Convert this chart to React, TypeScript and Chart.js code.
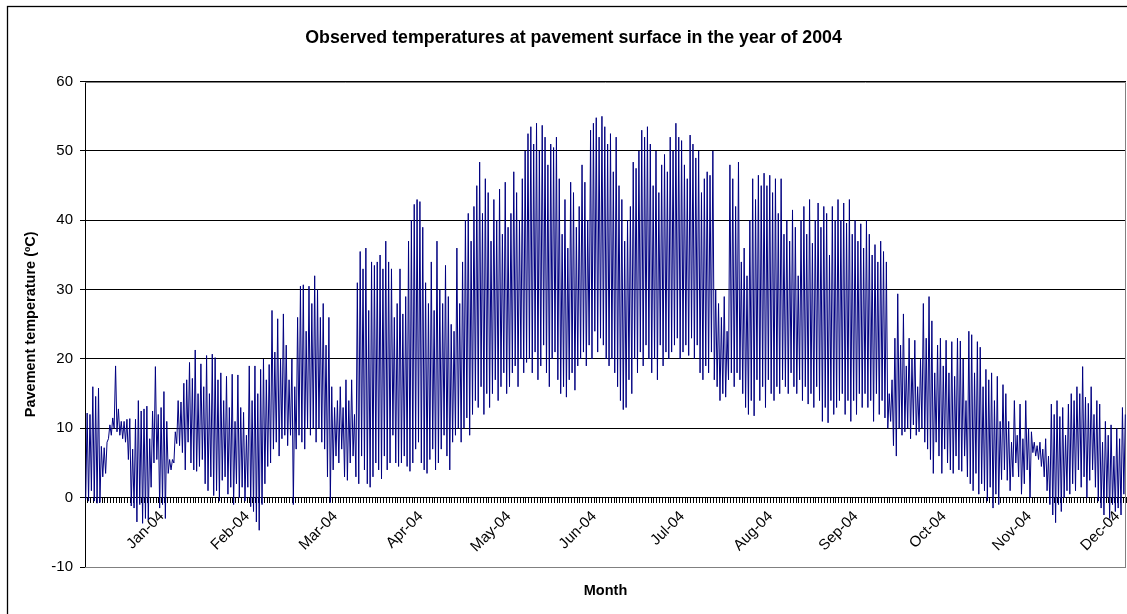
import { useEffect, useRef } from 'react';
import { Chart, registerables } from 'chart.js';

Chart.register(...registerables);

const chartTitle = 'Observed temperatures at pavement surface in the year of 2004';
const xTitle = 'Month';
const yTitle = 'Pavement temperature (ºC)';

const monthLabels = ['Jan-04', 'Feb-04', 'Mar-04', 'Apr-04', 'May-04', 'Jun-04', 'Jul-04', 'Aug-04', 'Sep-04', 'Oct-04', 'Nov-04', 'Dec-04'];
// day index (0 = first day of record) at which each month label sits
const monthLabelDays = [27, 57, 88, 118, 149, 179, 210, 241, 271, 302, 332, 363];

const dailyHighs = [
  12.2, 12, 16, 14.6, 15.8, 7.4, 7.2, 8, 10.5, 11.5,
  19, 12.8, 11, 11, 11.3, 11.4, 7, 11.3, 14, 12.5,
  12.8, 13.2, 8.5, 12.5, 18.9, 12, 13, 15.3, 11, 5.5,
  5.5, 9.5, 14, 13.8, 16.5, 17, 19.5, 17.2, 21.3, 15,
  19.3, 16, 20.5, 15, 20.7, 20.2, 17, 18, 14, 17.5,
  13, 17.8, 11, 17.7, 13, 12.3, 9, 19, 14, 19,
  15, 18.5, 20, 17, 19.2, 27, 21, 25.8, 20, 26.5,
  22, 17, 20, 16, 26, 30.5, 30.7, 24, 30.5, 28,
  32, 30, 26, 28, 22, 26, 16, 13, 14, 16,
  13, 17, 14, 17, 12, 31, 35.5, 33, 36, 27,
  34, 33.5, 34, 35, 33, 37, 34, 33, 26, 28,
  33, 26.5, 29, 37, 40, 42.3, 43, 42.7, 39, 31,
  28, 34, 27, 37, 30, 28, 33.5, 29, 25, 24,
  36, 28, 34, 40, 41, 37, 42, 45, 48.4, 41,
  46, 44, 37, 43, 40, 44.5, 38, 45.5, 39, 41,
  47, 44, 40, 46, 50, 52.5, 53.5, 51, 54, 50,
  53.7, 52, 48, 51, 50.5, 52, 46, 38, 43, 36,
  45.5, 44, 39, 42, 48, 45.5, 40, 53, 54, 54.8,
  52, 55, 53.5, 51, 52.5, 47, 52, 45, 43, 37,
  40, 42, 48.4, 47.5, 50, 53, 52, 53.5, 51, 45,
  50, 44, 48, 49.5, 47, 52, 50, 54, 52, 51.5,
  48, 46, 52.3, 51, 49, 50, 44, 46, 47, 46.5,
  50, 30, 28, 26, 29, 24, 48, 46, 42, 48.4,
  34, 36, 32, 40, 46, 43, 46.5, 45, 46.8, 45,
  46.5, 44, 46, 41, 46, 38, 40, 37, 41.5, 39,
  32, 40, 42, 38, 43, 36.7, 40, 42.5, 39, 42,
  41, 35, 42, 40, 43, 40, 42.5, 39.6, 43, 38,
  40, 37, 39.5, 36, 40, 38, 35, 36.5, 34, 37,
  35.5, 34, 15, 17, 23, 29.4, 22, 26.5, 19, 23,
  20, 22.7, 16, 20, 28, 23, 29, 25.5, 18, 22,
  23, 19, 22.7, 18, 22.5, 17.5, 23, 22.6, 20, 14,
  24, 23.5, 18, 22.5, 21.7, 16, 18.5, 17, 18, 14,
  17.5, 11, 16.3, 15, 11, 8, 14, 9, 13.5, 8.5,
  14, 10, 9.5, 8, 7.5, 8, 7, 8.5, 6, 13.5,
  12, 14, 11.7, 13, 9, 13.5, 15, 14, 16, 15,
  18.9, 14.5, 13.6, 16, 12, 14, 13.5, 8, 11, 9,
  10.5, 6, 10, 8.5, 13, 12,
];

const dailyLows = [
  -0.3, -0.5, 1, -0.5, -0.8, -0.7, 3, 3.5, 8.5, 9,
  10, 9.5, 9, 8.5, 8, 5.5, -1.2, -1.5, -3.5, -1,
  -3.7, -3, -3.2, 1.5, 5, 5.5, -1.5, -1, -3, 3.5,
  4, 5, 7.8, 7.5, 6.5, 4, 8, 5, 4, 3.8,
  4.5, 5.5, 2, 1, 3, 0.3, 1, -0.5, 2.5, 3,
  0.5, 1.5, -1, 2, 0, 1.5, -0.5, 1.5, -1.3, -2,
  -3.5, -4.7, -1, 2, 4.5, 5, 7, 8, 6, 8.5,
  9, 7.5, 9, -1, 7, 9, 8, 7, 10, 9,
  10, 8, 10, 8, 7, 3, -0.7, 4, 6, 5,
  7, 3, 2.5, 5, 6, 3, 2, 6, 4, 2,
  1.5, 3, 5, 4, 2.7, 6, 4, 5, 9, 5,
  4.5, 5, 6, 4.5, 3.8, 5, 7, 8, 5, 4,
  3.5, 5.5, 7, 4, 5, 7, 9, 6, 4, 8,
  9, 10, 8, 10, 11.5, 9, 12, 14, 13, 16,
  12, 15, 13, 15, 17, 14, 16, 18, 15, 16,
  18, 19, 16, 20, 18, 19.5, 20, 18, 21, 17,
  19, 22, 18, 16, 20, 21, 17, 15, 16, 14.5,
  17, 18, 15.5, 19, 20, 21, 19, 22, 20, 24,
  21, 23, 22, 20, 19, 20, 18, 16, 14, 12.7,
  13, 17, 15, 20, 18, 21, 19, 22, 20, 18,
  20, 17, 22, 19, 21, 20, 21, 22, 23, 20,
  21, 22, 20.5, 23, 20, 22, 18, 17, 19, 18,
  21, 17, 16, 14, 15, 14.5, 17, 18, 16, 18,
  17, 15, 13, 12, 14, 11.8, 17, 14, 16, 13,
  17, 15, 14, 16, 15, 17, 16, 15, 18, 16,
  15, 17, 14, 16, 13.5, 15, 13, 16, 14, 11,
  13, 10.8, 14, 12, 13, 14, 15, 12, 14, 11,
  14, 12, 15, 13, 15, 13, 14, 11, 15, 12,
  14, 11.5, 10, 11, 7.5, 6, 10, 9, 9.5, 10,
  8.5, 10.5, 9, 9.5, 10, 8, 7, 5.5, 3.5, 8,
  6, 3.5, 7, 5, 4, 3.5, 6, 4, 3.8, 6,
  3, 2, 1, 3.5, 0.5, 2, 1, -0.5, 1.5, -1.5,
  0.5, -1, 2.6, 4, 2.5, 1, 3, 5, 3, 0.5,
  2, 4, 0, 6.5, 6, 5.5, 4.5, 3, 1, -1,
  -2.5, -3.6, -1, -2, 0, 1, 0.5, 2, 1, 4,
  1.5, 3, 0, 2.5, 4, 1.5, -0.5, -1.5, -2.5, 0,
  -3, -1, -2, -1.5, -2.5, 0.5,
];

const yMin = -10;
const yMax = 60;
const yStep = 10;

const FONT = "'Liberation Sans', Arial, Helvetica, sans-serif";

export default function App() {
  const ref = useRef<HTMLCanvasElement>(null);

  useEffect(() => {
    if (!ref.current) return;
    const points: { x: number; y: number }[] = [];
    dailyLows.forEach((lo, i) => {
      points.push({ x: i + 0.25, y: lo });
      points.push({ x: i + 0.75, y: dailyHighs[i] });
    });
    const dayCount = dailyHighs.length;
    const dayTicks: number[] = [];
    for (let d = 0; d <= dayCount; d++) dayTicks.push(d);
    const labelFor = new Map<number, string>(monthLabelDays.map((d, i) => [d, monthLabels[i]]));

    const framePlugin = {
      id: 'frame',
      beforeDraw(chart: any) {
        const c = chart.ctx;
        c.save();
        c.fillStyle = '#ffffff';
        c.fillRect(0, 0, chart.width, chart.height);
        c.strokeStyle = '#000000';
        c.lineWidth = 1.3;
        c.strokeRect(7.5, 6.5, 1133, 700);
        c.restore();
      },
      beforeDatasetsDraw(chart: any) {
        const { left, top, right, bottom } = chart.chartArea;
        const c = chart.ctx;
        c.save();
        c.strokeStyle = '#808080';
        c.lineWidth = 1;
        c.beginPath();
        c.moveTo(left, Math.round(top) + 0.5);
        c.lineTo(Math.round(right) - 0.5, Math.round(top) + 0.5);
        c.lineTo(Math.round(right) - 0.5, Math.round(bottom) + 0.5);
        c.lineTo(left, Math.round(bottom) + 0.5);
        c.stroke();
        c.restore();
      },
    };

    const chart = new Chart(ref.current, {
      type: 'line',
      data: {
        datasets: [
          {
            data: points,
            xAxisID: 'x',
            yAxisID: 'y',
            borderColor: '#000080',
            borderWidth: 1,
            pointRadius: 0,
            tension: 0,
            fill: false,
          },
        ],
      },
      options: {
        responsive: false,
        animation: false,
        events: [],
        layout: { padding: { left: 21, right: 21, top: 0, bottom: 0 } },
        plugins: {
          legend: { display: false },
          tooltip: { enabled: false },
          title: {
            display: true,
            text: chartTitle,
            color: '#000',
            font: { family: FONT, size: 17.8, weight: 'bold' },
            padding: { top: 27.3, bottom: 33 },
          },
        },
        scales: {
          x: {
            type: 'linear',
            position: { y: 0 } as any,
            min: 0,
            max: dayCount,
            afterBuildTicks: (scale: any) => {
              scale.ticks = dayTicks.map((v) => ({ value: v }));
            },
            ticks: {
              autoSkip: false,
              maxRotation: 45,
              minRotation: 45,
              padding: 5,
              color: '#000',
              font: { family: FONT, size: 15 },
              callback: (v: any) => labelFor.get(Number(v)) ?? '',
            },
            grid: {
              drawOnChartArea: false,
              drawTicks: true,
              tickLength: 5,
              color: '#000',
              lineWidth: 1,
            },
            border: { display: true, color: '#000', width: 1 },
          },
          xb: {
            type: 'linear',
            position: 'bottom',
            min: 0,
            max: 1,
            ticks: { display: false },
            grid: { display: false, drawTicks: false },
            border: { display: false },
            title: {
              display: true,
              text: xTitle,
              color: '#000',
              font: { family: FONT, size: 14.5, weight: 'bold' },
              padding: { top: 15.3, bottom: 14.3 },
            },
          },
          y: {
            type: 'linear',
            position: 'left',
            min: yMin,
            max: yMax,
            afterFit: (scale: any) => {
              scale.width = 64;
            },
            ticks: {
              stepSize: yStep,
              padding: 7,
              color: '#000',
              font: { family: FONT, size: 15 },
            },
            grid: {
              color: (ctx: any) => (ctx.tick && ctx.tick.value === yMin ? '#808080' : '#000'),
              tickColor: '#000',
              tickLength: 5,
              lineWidth: 1,
            },
            border: { display: true, color: '#000', width: 1 },
            title: {
              display: true,
              text: yTitle,
              color: '#000',
              font: { family: FONT, size: 14.5, weight: 'bold' },
              padding: { top: 0.8, bottom: 0 },
            },
          },
        },
      } as any,
      plugins: [framePlugin],
    });
    return () => chart.destroy();
  }, []);

  return (
    <div style={{ position: 'fixed', left: 0, top: 0, width: 1127, height: 614, overflow: 'hidden', background: '#fff' }}>
      <canvas ref={ref} width={1147} height={614} style={{ display: 'block', width: 1147, height: 614 }} />
    </div>
  );
}
